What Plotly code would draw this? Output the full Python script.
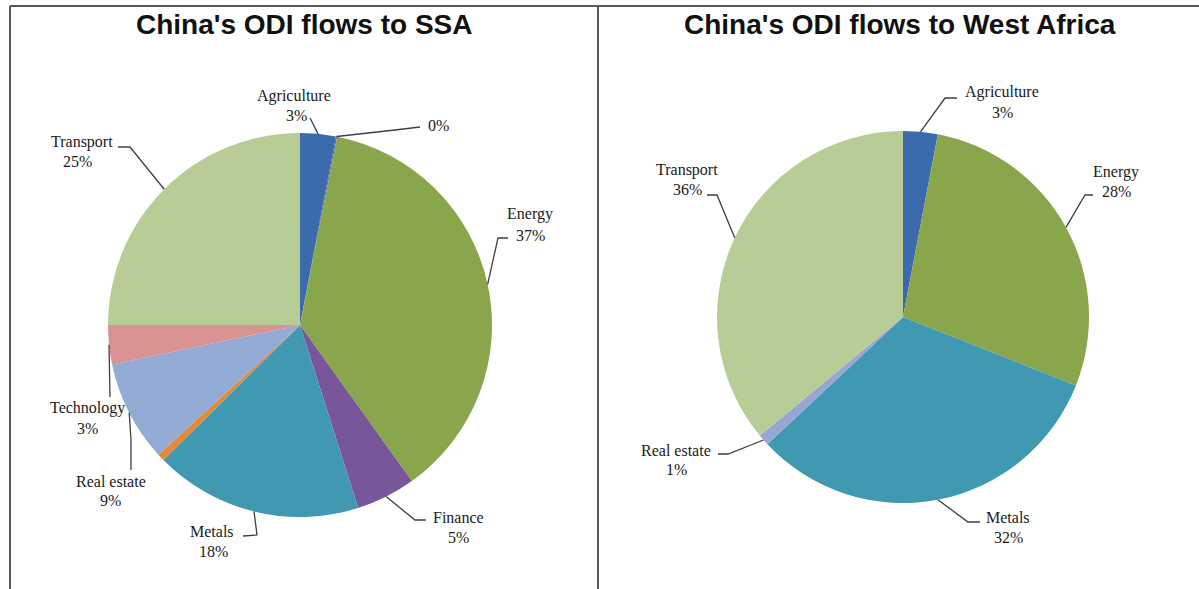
import math
import plotly.graph_objects as go

# ---------------- data ----------------
ssa_sectors = ["Agriculture", "Other", "Energy", "Finance", "Metals", "Unlabelled",
               "Real estate", "Technology", "Transport"]
ssa_values = [3.0, 0.1, 37.0, 5.0, 17.5, 0.6, 8.5, 3.3, 25.0]
ssa_shown = ["3%", "0%", "37%", "5%", "18%", "", "9%", "3%", "25%"]

wa_sectors = ["Agriculture", "Energy", "Metals", "Real estate", "Transport"]
wa_values = [3.0, 28.0, 32.0, 1.0, 36.0]
wa_shown = ["3%", "28%", "32%", "1%", "36%"]

titles = ["China's ODI flows to SSA", "China's ODI flows to West Africa"]

# ---------------- styles / layout ----------------
W, H = 1199, 589
ssa_colors = ["#3B6BAA", "#3B6BAA", "#8AA64C", "#77579A", "#4198B1", "#E08A3C",
              "#92AAD4", "#D89292", "#B8CD96"]
wa_colors = ["#3B6BAA", "#8AA64C", "#4198B1", "#98A6D4", "#B8CD96"]

ssa_center, ssa_r = (300, 325), 192
wa_center, wa_r = (903, 317), 186

# label placement: name pos, pct pos, elbow points (pixel coords)
ssa_place = {
    "Agriculture": ((294, 96), (296, 116), [(310, 118)]),
    "Other": (None, (438, 125), [(420, 127), (395, 130)]),
    "Energy": ((530, 214), (530, 235), [(508, 238), (498, 238)]),
    "Finance": ((458, 517), (458, 537), [(426, 520), (415, 520)]),
    "Metals": ((212, 531), (213, 551), [(243, 536), (257, 535)]),
    "Real estate": ((111, 481), (111, 500), [(131, 470), (131, 440)]),
    "Technology": ((87, 408), (87, 428), [(110, 397)]),
    "Transport": ((82, 142), (77, 162), [(118, 147), (130, 147)]),
}
wa_place = {
    "Agriculture": ((1002, 92), (1002, 112), [(957, 98), (945, 98)]),
    "Energy": ((1116, 172), (1116, 192), [(1093, 195), (1085, 195)]),
    "Metals": ((1008, 517), (1008, 537), [(980, 522), (968, 522)]),
    "Real estate": ((676, 450), (676, 469), [(718, 454), (728, 454)]),
    "Transport": ((687, 170), (687, 190), [(707, 195), (717, 195)]),
}

LABEL_FONT = dict(family="Liberation Serif, Times New Roman, serif", size=16, color="#1A1A1A")
TITLE_FONT = dict(family="Liberation Sans, Arial, sans-serif", size=28, color="#111111")
LINE_COLOR = "#404040"


def fx(x):
    return x / W


def fy(y):
    return 1 - y / H


def domain(center, r):
    cx, cy = center
    return dict(x=[fx(cx - r), fx(cx + r)], y=[fy(cy + r), fy(cy - r)])


fig = go.Figure()
for sectors, values, colors, center, r in [
    (ssa_sectors, ssa_values, ssa_colors, ssa_center, ssa_r),
    (wa_sectors, wa_values, wa_colors, wa_center, wa_r),
]:
    fig.add_trace(go.Pie(
        labels=sectors, values=values, sort=False, direction="clockwise", rotation=0,
        marker=dict(colors=colors, line=dict(width=0)),
        textinfo="none", hoverinfo="label+percent", showlegend=False,
        domain=domain(center, r),
    ))

annotations = []
shapes = []


def add_labels(sectors, values, shown, place, center, r):
    total = sum(values)
    cum = 0.0
    for name, v, pct in zip(sectors, values, shown):
        mid = (cum + v / 2) / total
        cum += v
        if name not in place:
            continue
        name_pos, pct_pos, elbows = place[name]
        ang = 2 * math.pi * mid
        ax = center[0] + r * math.sin(ang)
        ay = center[1] - r * math.cos(ang)
        pts = elbows + [(ax, ay)]
        path = "M " + " L ".join(f"{fx(x):.5f},{fy(y):.5f}" for x, y in pts)
        shapes.append(dict(type="path", xref="paper", yref="paper", path=path,
                           line=dict(color=LINE_COLOR, width=1.3), layer="above"))
        if name_pos is not None:
            annotations.append(dict(x=fx(name_pos[0]), y=fy(name_pos[1]), xref="paper", yref="paper",
                                    text=name, showarrow=False, font=LABEL_FONT,
                                    xanchor="center", yanchor="middle"))
        annotations.append(dict(x=fx(pct_pos[0]), y=fy(pct_pos[1]), xref="paper", yref="paper",
                                text=pct, showarrow=False, font=LABEL_FONT,
                                xanchor="center", yanchor="middle"))


add_labels(ssa_sectors, ssa_values, ssa_shown, ssa_place, ssa_center, ssa_r)
add_labels(wa_sectors, wa_values, wa_shown, wa_place, wa_center, wa_r)

# titles
for t, cx in zip(titles, [304, 900]):
    annotations.append(dict(x=fx(cx), y=fy(25), xref="paper", yref="paper", text=f"<b>{t}</b>",
                            showarrow=False, font=TITLE_FONT, xanchor="center", yanchor="middle"))

# panel borders
border = dict(color="#5A5A5A", width=2)
shapes += [
    dict(type="line", xref="paper", yref="paper", x0=fx(10), x1=1, y0=fy(6), y1=fy(6), line=border, layer="above"),
    dict(type="line", xref="paper", yref="paper", x0=fx(10), x1=fx(10), y0=fy(6), y1=0, line=border, layer="above"),
    dict(type="line", xref="paper", yref="paper", x0=fx(598), x1=fx(598), y0=fy(6), y1=0, line=border, layer="above"),
]

fig.update_layout(
    width=W, height=H, margin=dict(l=0, r=0, t=0, b=0),
    paper_bgcolor="white", plot_bgcolor="white",
    annotations=annotations, shapes=shapes,
)
fig.write_html("out.html", config={"displayModeBar": False},
               post_script="document.body.style.margin='0';document.body.style.overflow='hidden';")
